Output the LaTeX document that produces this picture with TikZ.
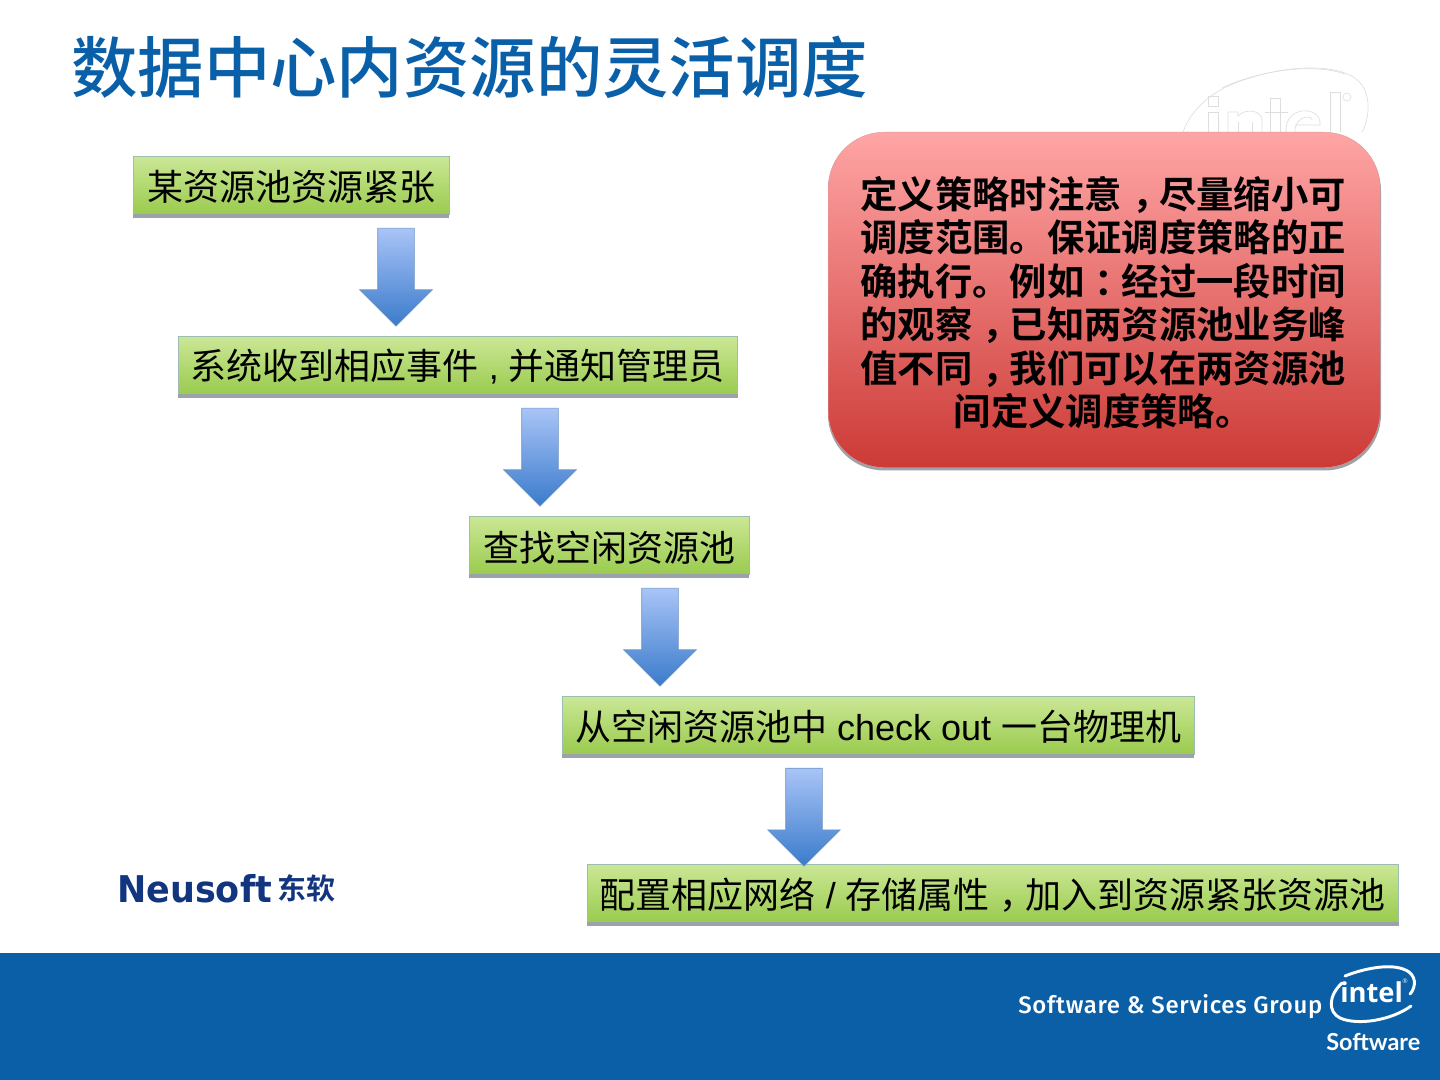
\documentclass[tikz,border=0pt]{standalone}
\usepackage{fontspec}
\usepackage{graphicx}
\usetikzlibrary{shapes.arrows}
\setmainfont{Liberation Sans}
\newfontfamily\cjk{Noto Sans CJK SC}
\newfontfamily\cjkt{Noto Sans CJK SC Medium}
\newfontfamily\cjkb{Noto Sans CJK SC Bold}
\newfontfamily\ssgf[LetterSpace=3]{Fira Sans Medium}
\newfontfamily\ptf{Lato Bold}
\newfontfamily\ops{Open Sans}
\newfontfamily\neuf{DejaVu Sans Bold}
\newcommand\cc[1]{\kern.28em#1\kern-.28em}
\newcommand\lowr[2]{\raisebox{-#1}[\height][\depth]{#2}}
\definecolor{titleblue}{HTML}{0A60A8}
\definecolor{footblue}{HTML}{0A5FA6}
\definecolor{neu}{HTML}{12357F}
\definecolor{wm}{HTML}{DEDEDE}
\definecolor{boxedge}{HTML}{9DBDB0}
\definecolor{greentop}{HTML}{CBE796}
\definecolor{greenbot}{HTML}{9ACB4E}
\definecolor{shadowgray}{HTML}{9BA2AA}
\definecolor{arrowedge}{HTML}{7095C0}
\definecolor{arrowtop}{HTML}{A9C4F7}
\definecolor{arrowbot}{HTML}{3A7BCB}
\definecolor{redtop}{HTML}{FFA5A5}
\definecolor{redbot}{HTML}{CC3A36}
\tikzset{
  greenbox/.style={anchor=north west,inner sep=0pt,minimum height=43.5pt,
    draw=boxedge,line width=0.3pt,top color=greentop,bottom color=greenbot,
    font=\fontsize{27pt}{32pt}\selectfont,text=black},
  boxshadow/.style={fill=shadowgray},
  blockarrow/.style={shape=single arrow,rotate=-90,inner xsep=0pt,inner ysep=13.5pt,
    minimum height=73.5pt,minimum width=54pt,
    single arrow head extend=13.5pt,single arrow tip angle=90,
    draw=arrowedge,line width=0.5pt,top color=arrowtop,bottom color=arrowbot},
  wmline/.style={draw=wm,line width=0.5pt},
  swoosh/.style={draw=white,line width=2.2pt,line cap=round}
}
\begin{document}
\begin{tikzpicture}[x=0.75pt,y=-0.75pt]
\useasboundingbox (0,0) rectangle (1440,1080);
% watermark
\draw[wmline] (1183,132) .. controls (1195,100) and (1225,85) .. (1250,78) .. controls (1290,65) and (1345,62) .. (1362,85) .. controls (1372,100) and (1368,122) .. (1362,132);
\draw[wmline] (1222,88) .. controls (1255,72) and (1310,62) .. (1345,74);
\draw[wmline] (1208,96) rectangle (1218,106);
\draw[wmline] (1208,112) -- (1208,132) (1218,112) -- (1218,132) (1208,112) -- (1218,112);
\draw[wmline] (1228,132) -- (1228,112) -- (1238,112) -- (1238,116) .. controls (1245,108) and (1262,110) .. (1262,120) -- (1262,132);
\draw[wmline] (1238,132) -- (1238,122) (1252,132) -- (1252,122);
\draw[wmline] (1270,132) -- (1270,98) -- (1280,98) -- (1280,132);
\draw[wmline] (1265,112) -- (1288,112);
\draw[wmline] (1286,132) .. controls (1284,105) and (1322,105) .. (1320,125) -- (1295,125);
\draw[wmline] (1295,132) .. controls (1295,115) and (1312,115) .. (1312,120);
\draw[wmline] (1330,132) -- (1330,92) -- (1340,92) -- (1340,132);
\draw[wmline] (1347,97) circle (4);
% title
\node[anchor=west,inner sep=0pt,text=titleblue,font=\fontsize{49.8pt}{56pt}\selectfont] (title) at (71,67) {\cjkt 数据中心内资源的灵活调度};
% footer
\fill[footblue] (0,953) rectangle (1440,1080);
\node[anchor=west,inner sep=0pt,text=white] (ssg) at (1018,1006.5) {\resizebox{228pt}{!}{\ssgf Software \& Services Group}};
\node[anchor=west,inner sep=0pt,text=white] (intelsoft) at (1326,1042) {\resizebox{70.5pt}{!}{\ptf Software}};
\node[anchor=west,inner sep=0pt,text=white] (intelword) at (1340,992) {\resizebox{47pt}{!}{\ops\bfseries intel}};
\draw[swoosh] (1345,976) .. controls (1365,968) and (1395,962) .. (1409,972) .. controls (1418,979) and (1414,990) .. (1410,994);
\draw[swoosh] (1342,983) .. controls (1328,996) and (1328,1012) .. (1340,1018) .. controls (1358,1026) and (1392,1020) .. (1411,1006);
\node[font=\fontsize{5pt}{6pt}\selectfont,text=white,inner sep=0pt] (regmark) at (1405,981) {®};
% neusoft
\node[anchor=west,inner sep=0pt,text=neu] (neusoft) at (117,888.5) {\resizebox{116pt}{21pt}{\neuf Neusoft}};
\node[anchor=west,inner sep=0pt,text=neu,font=\fontsize{21.75pt}{24pt}\selectfont] (neucn) at (277,888) {\cjkb 东软};
% red callout
\fill[shadowgray,rounded corners=42pt] (828,135) rectangle (1381,470.5);
\node[anchor=north west,inner sep=0pt,minimum width=414pt,minimum height=251.5pt,
  rounded corners=42pt,draw=redtop!70!gray,line width=0.3pt,top color=redtop,bottom color=redbot] (callout) at (828,132) {};
\node[inner sep=0pt,align=center,text=black,font=\fontsize{28pt}{32.6pt}\selectfont\cjkb] (callouttext) at (1103,302.5) {定义策略时注意\cc{，}尽量缩小可\\调度范围。保证调度策略的正\\确执行。例如\cc{：}经过一段时间\\的观察\cc{，}已知两资源池业务峰\\值不同\cc{，}我们可以在两资源池\\间定义调度策略。};
% boxes
\node[greenbox,minimum width=237pt] (b1) at (133,156) {\lowr{1.6pt}{\cjk 某资源池资源紧张}};
\node[greenbox,minimum width=419.5pt] (b2) at (178,336) {\lowr{1.2pt}{{\cjk 系统收到相应事件} , {\cjk 并通知管理员}}};
\node[greenbox,minimum width=210pt] (b3) at (469,516) {\lowr{1.6pt}{\cjk 查找空闲资源池}};
\node[greenbox,minimum width=474pt] (b4) at (562,696) {\lowr{1.2pt}{{\cjk 从空闲资源池中} check out {\cjk 一台物理机}}};
\node[greenbox,minimum width=608.5pt] (b5) at (587,864) {\lowr{1.2pt}{{\cjk 配置相应网络} / {\cjk 存储属性\cc{，}加入到资源紧张资源池}}};
\fill[boxshadow] (b1.south west) rectangle ([yshift=-2.4pt]b1.south east);
\fill[boxshadow] (b2.south west) rectangle ([yshift=-2.4pt]b2.south east);
\fill[boxshadow] (b3.south west) rectangle ([yshift=-2.4pt]b3.south east);
\fill[boxshadow] (b4.south west) rectangle ([yshift=-2.4pt]b4.south east);
\fill[boxshadow] (b5.south west) rectangle ([yshift=-2.4pt]b5.south east);
% arrows
\node[blockarrow] (a1) at (396,268) {};
\node[blockarrow] (a2) at (540,448) {};
\node[blockarrow] (a3) at (660,628) {};
\node[blockarrow] (a4) at (804,808) {};
\end{tikzpicture}
\end{document}
